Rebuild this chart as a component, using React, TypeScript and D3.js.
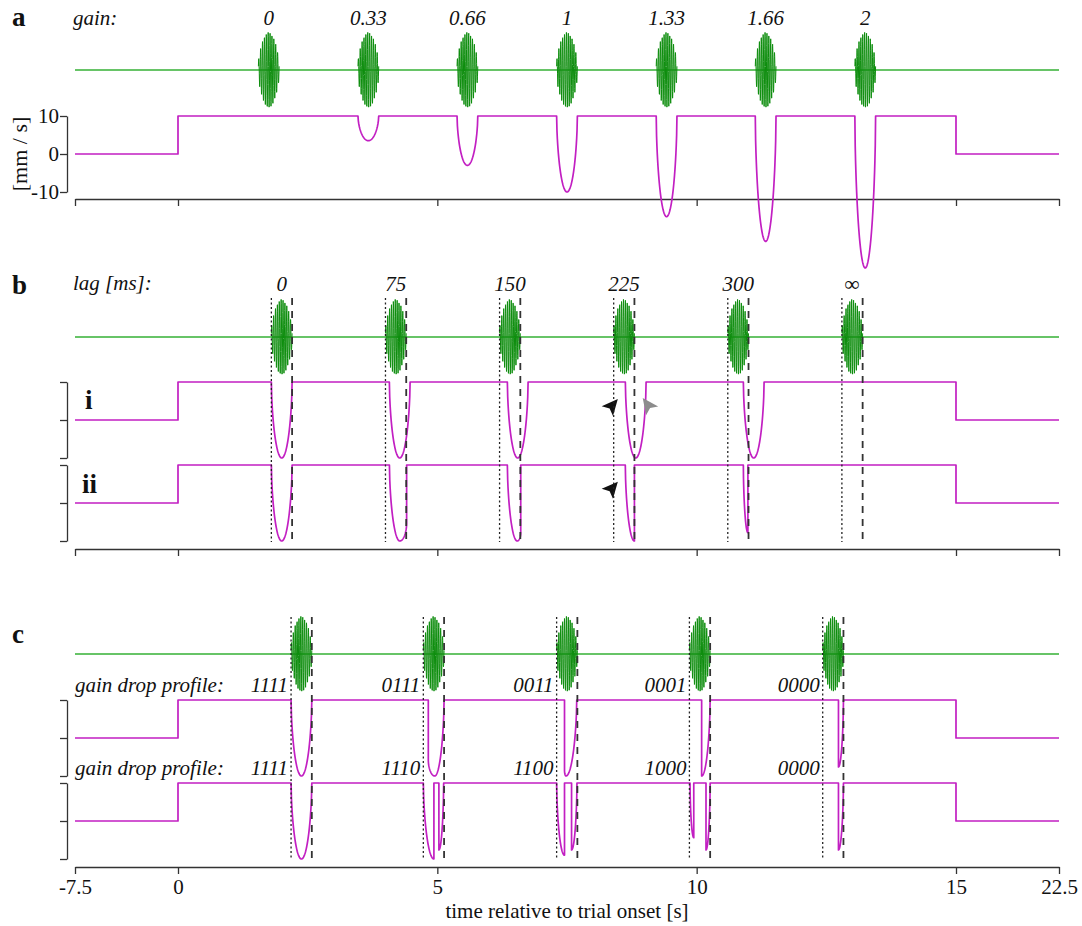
import { useEffect, useRef } from 'react';
import * as d3 from 'd3';

const W = 1082, H = 926;
const SERIF = '"Liberation Serif", "Times New Roman", serif';

// time axis: pre- and post-trial periods are drawn compressed
const TIME_BREAKS = [-7.5, 0, 15, 22.5];
const TIME_TICKS = [-7.5, 0, 5, 10, 15, 22.5];
const TRIAL = [0, 15];
const VEL_TICKS = [-10, 0, 10];
const BASE_VEL = 10;
const DIP_RANGE = 20; // depth 1 = from 10 down to -10 mm/s
const STIM_DUR = 0.4;

// envelope of the grating burst across the stimulus window
const ENVELOPE = [0.25, 0.55, 0.75, 0.88, 0.96, 1, 0.96, 0.88, 0.75, 0.55, 0.25];

// a: gain
const GAINS = ['0', '0.33', '0.66', '1', '1.33', '1.66', '2'];
const GAIN_ONSETS = [1.55, 3.47, 5.38, 7.3, 9.22, 11.13, 13.05];
const GAIN_MIN_VEL = [10, 3.5, -3, -10, -16.5, -23, -30];

// b: lag
const LAGS = ['0', '75', '150', '225', '300', '∞'];
const LAG_SEC = [0, 0.075, 0.15, 0.225, 0.3, null];
const LAG_ONSETS = [1.8, 4.0, 6.2, 8.4, 10.6, 12.8];
// dip pieces in stimulus-window units: [start, minimum, end, depth, depth at start, depth at end]
const LAG_DIPS_II = [
  [[0, 0.5, 1, 1, 0, 0]],
  [[0.19, 0.69, 1.02, 1, 0, 0.78]],
  [[0.375, 0.85, 1.02, 1, 0, 0.9]],
  [[0.56, 1, 1, 1, 0, 1]],
  [[0.75, 0.97, 0.97, 0.89, 0, 0.89]],
  [],
];
const ARROWS = [
  { row: 0, t: 8.48, v: 5.5, angle: -49, color: '#111' },
  { row: 0, t: 8.96, v: 5.8, angle: -126, color: '#8c8c8c' },
  { row: 1, t: 8.48, v: 5.6, angle: -49, color: '#111' },
];

// c: gain drop profile
const PROFILE_ONSETS = [2.18, 4.73, 7.3, 9.86, 12.43];
const PROFILES_TOP = ['1111', '0111', '0011', '0001', '0000'];
const PROFILES_BOTTOM = ['1111', '1110', '1100', '1000', '0000'];
const DIPS_TOP = [
  [[0, 0.5, 1, 1, 0, 0]],
  [[0.24, 0.55, 1, 1, 0.8, 0]],
  [[0.38, 0.45, 0.97, 1, 0.93, 0]],
  [[0.59, 0.59, 1, 1, 1, 0]],
  [[0.76, 0.76, 1, 0.88, 0.88, 0]],
];
const DIPS_BOTTOM = [
  [[0, 0.5, 1, 1, 0, 0]],
  [[0, 0.51, 0.51, 1, 0, 1], [0.75, 0.75, 0.98, 0.88, 0.88, 0]],
  [[0, 0.38, 0.38, 0.95, 0, 0.95], [0.72, 0.72, 0.98, 0.88, 0.88, 0]],
  [[0.03, 0.21, 0.21, 0.72, 0, 0.72], [0.8, 0.8, 1, 0.88, 0.88, 0]],
  [[0.76, 0.76, 1, 0.88, 0.88, 0]],
];

const MAGENTA = '#c21fc2';
const GREEN = '#35b035';
const GREEN_DARK = '#0d8d0d';
const AXIS = '#333';

const wall = (u: number) => Math.pow(1 - (1 - u) * (1 - u), 0.6);

export default function App() {
  const ref = useRef<SVGSVGElement>(null);

  useEffect(() => {
    document.body.style.margin = '0';
    const svg = d3.select(ref.current);
    svg.selectAll('*').remove();

    const x = d3.scaleLinear().domain(TIME_BREAKS).range([75, 178, 956, 1059]);
    const velScale = (zero: number) => d3.scaleLinear().domain([-10, 10]).range([zero + 38, zero - 38]);
    const line = d3.line();

    const text = (s: string, tx: number, ty: number, size: number, opts: any = {}) =>
      svg
        .append('text')
        .attr('x', tx)
        .attr('y', ty)
        .attr('font-family', SERIF)
        .attr('font-size', size)
        .attr('font-style', opts.italic ? 'italic' : 'normal')
        .attr('font-weight', opts.bold ? 'bold' : 'normal')
        .attr('text-anchor', opts.anchor || 'start')
        .attr('fill', '#111')
        .text(s);

    const timeAxis = (y: number, labels: boolean) => {
      const ax = d3
        .axisBottom(x)
        .tickValues(TIME_TICKS)
        .tickSize(7)
        .tickSizeOuter(0)
        .tickPadding(5)
        .tickFormat(labels ? (d: any) => String(d) : () => '');
      const a = svg.append('g').attr('transform', `translate(0,${y})`).call(ax);
      a.attr('font-family', SERIF).attr('font-size', 21);
      a.selectAll('path,line').attr('stroke', AXIS).attr('stroke-width', 1.3);
      a.selectAll('text').attr('fill', '#111');
    };

    const velAxis = (zero: number, labels: boolean) => {
      const ax = d3
        .axisLeft(velScale(zero))
        .tickValues(VEL_TICKS)
        .tickSize(7)
        .tickSizeOuter(0)
        .tickPadding(1)
        .tickFormat(labels ? (d: any) => String(d) : () => '');
      const a = svg.append('g').attr('transform', 'translate(67,0)').call(ax);
      a.attr('font-family', SERIF).attr('font-size', 21);
      a.selectAll('path,line').attr('stroke', AXIS).attr('stroke-width', 1.3);
      a.selectAll('text').attr('fill', '#111');
    };

    const envelope = d3
      .scaleLinear()
      .domain(ENVELOPE.map((_, i) => i / (ENVELOPE.length - 1)))
      .range(ENVELOPE);

    const greenRow = (y: number, onsets: number[]) => {
      svg
        .append('line')
        .attr('x1', x(-7.5))
        .attr('x2', x(22.5))
        .attr('y1', y)
        .attr('y2', y)
        .attr('stroke', GREEN)
        .attr('stroke-width', 1.5);
      onsets.forEach((on) => {
        const pts: [number, number][] = [];
        const n = 140;
        for (let k = 0; k <= n; k++) {
          const u = k / n;
          const amp = envelope(u) * Math.sin(2 * Math.PI * 11 * u + 0.4);
          pts.push([x(on + u * STIM_DUR), y - 38 * amp]);
        }
        svg
          .append('path')
          .attr('d', line(pts))
          .attr('fill', 'none')
          .attr('stroke', GREEN_DARK)
          .attr('stroke-width', 1);
      });
    };

    // pieces in seconds: [start, min, end, depth, depthStart, depthEnd]
    const trace = (zero: number, pieces: number[][]) => {
      const y = velScale(zero);
      const v = (d: number) => BASE_VEL - DIP_RANGE * d;
      const pts: [number, number][] = [
        [-7.5, 0],
        [TRIAL[0], 0],
        [TRIAL[0], BASE_VEL],
      ];
      pieces
        .slice()
        .sort((p, q) => p[0] - q[0])
        .forEach(([s, m, e, d, ds, de]) => {
          const n = 30;
          pts.push([s, BASE_VEL], [s, v(ds)]);
          if (m > s)
            for (let k = 1; k <= n; k++) {
              const u = k / n;
              pts.push([s + u * (m - s), v(ds + (d - ds) * wall(u))]);
            }
          if (e > m)
            for (let k = 1; k <= n; k++) {
              const u = k / n;
              pts.push([m + u * (e - m), v(de + (d - de) * wall(1 - u))]);
            }
          pts.push([e, v(de)], [e, BASE_VEL]);
        });
      pts.push([TRIAL[1], BASE_VEL], [TRIAL[1], 0], [22.5, 0]);
      svg
        .append('path')
        .attr('d', line(pts.map(([t, val]) => [x(t), y(val)])))
        .attr('fill', 'none')
        .attr('stroke', MAGENTA)
        .attr('stroke-width', 1.7)
        .attr('stroke-linejoin', 'round');
    };

    const windowPieces = (onset: number, rel: number[][]) =>
      rel.map(([s, m, e, d, ds, de]) => [
        onset + s * STIM_DUR,
        onset + m * STIM_DUR,
        onset + e * STIM_DUR,
        d,
        ds,
        de,
      ]);

    const markers = (onsets: number[], y0: number, y1: number) => {
      onsets.forEach((on) => {
        svg
          .append('line')
          .attr('x1', x(on))
          .attr('x2', x(on))
          .attr('y1', y0)
          .attr('y2', y1)
          .attr('stroke', '#222')
          .attr('stroke-width', 1.3)
          .attr('stroke-dasharray', '2,2.5');
        svg
          .append('line')
          .attr('x1', x(on + STIM_DUR))
          .attr('x2', x(on + STIM_DUR))
          .attr('y1', y0)
          .attr('y2', y1)
          .attr('stroke', '#333')
          .attr('stroke-width', 1.8)
          .attr('stroke-dasharray', '7,6');
      });
    };

    // ---- panel a
    text('a', 12, 26, 27, { bold: true });
    text('gain:', 73, 25, 21, { italic: true });
    GAINS.forEach((gl, i) => text(gl, x(GAIN_ONSETS[i] + STIM_DUR / 2), 25, 21, { italic: true, anchor: 'middle' }));
    timeAxis(199, false);
    velAxis(154, true);
    svg
      .append('text')
      .attr('transform', 'translate(27,154) rotate(-90)')
      .attr('text-anchor', 'middle')
      .attr('font-family', SERIF)
      .attr('font-size', 22)
      .attr('fill', '#111')
      .text('[mm / s]');
    greenRow(70, GAIN_ONSETS);
    trace(
      154,
      GAIN_MIN_VEL.flatMap((mv, i) =>
        mv < BASE_VEL
          ? windowPieces(GAIN_ONSETS[i], [[0, 0.5, 1, (BASE_VEL - mv) / DIP_RANGE, 0, 0]])
          : []
      )
    );

    // ---- panel b
    text('b', 12, 294, 27, { bold: true });
    text('lag [ms]:', 73, 290, 21, { italic: true });
    LAGS.forEach((l, i) => text(l, x(LAG_ONSETS[i] + STIM_DUR / 2), 291, 21, { italic: true, anchor: 'middle' }));
    timeAxis(549, false);
    const bRows = [420, 503];
    bRows.forEach((z) => velAxis(z, false));
    text('i', 85, 409, 27, { bold: true });
    text('ii', 82, 493, 27, { bold: true });
    greenRow(337, LAG_ONSETS);
    trace(
      bRows[0],
      LAG_SEC.flatMap((lag, i) =>
        lag === null
          ? []
          : windowPieces(LAG_ONSETS[i], [[lag / STIM_DUR, lag / STIM_DUR + 0.5, lag / STIM_DUR + 1, 1, 0, 0]])
      )
    );
    trace(bRows[1], LAG_DIPS_II.flatMap((p, i) => windowPieces(LAG_ONSETS[i], p)));
    ARROWS.forEach((a) => {
      const y = velScale(bRows[a.row]);
      svg
        .append('path')
        .attr('d', 'M0,0 L-16,-7.5 L-12.5,0 L-16,7.5 Z')
        .attr('transform', `translate(${x(a.t)},${y(a.v)}) rotate(${a.angle})`)
        .attr('fill', a.color);
    });
    markers(LAG_ONSETS, 298, 542);

    // ---- panel c
    text('c', 12, 643, 27, { bold: true });
    timeAxis(867, true);
    const cRows = [738, 821];
    cRows.forEach((z) => velAxis(z, false));
    greenRow(654, PROFILE_ONSETS);
    [PROFILES_TOP, PROFILES_BOTTOM].forEach((codes, r) => {
      const base = cRows[r] - 46;
      text('gain drop profile:', 75, base, 21, { italic: true });
      codes.forEach((c, i) => text(c, x(PROFILE_ONSETS[i]) - 3, base, 21, { italic: true, anchor: 'end' }));
    });
    trace(cRows[0], DIPS_TOP.flatMap((p, i) => windowPieces(PROFILE_ONSETS[i], p)));
    trace(cRows[1], DIPS_BOTTOM.flatMap((p, i) => windowPieces(PROFILE_ONSETS[i], p)));
    markers(PROFILE_ONSETS, 617, 860);
    text('time relative to trial onset [s]', 567, 918, 21, { anchor: 'middle' });
  }, []);

  return <svg ref={ref} width={W} height={H} style={{ display: 'block', background: '#fff' }} />;
}
